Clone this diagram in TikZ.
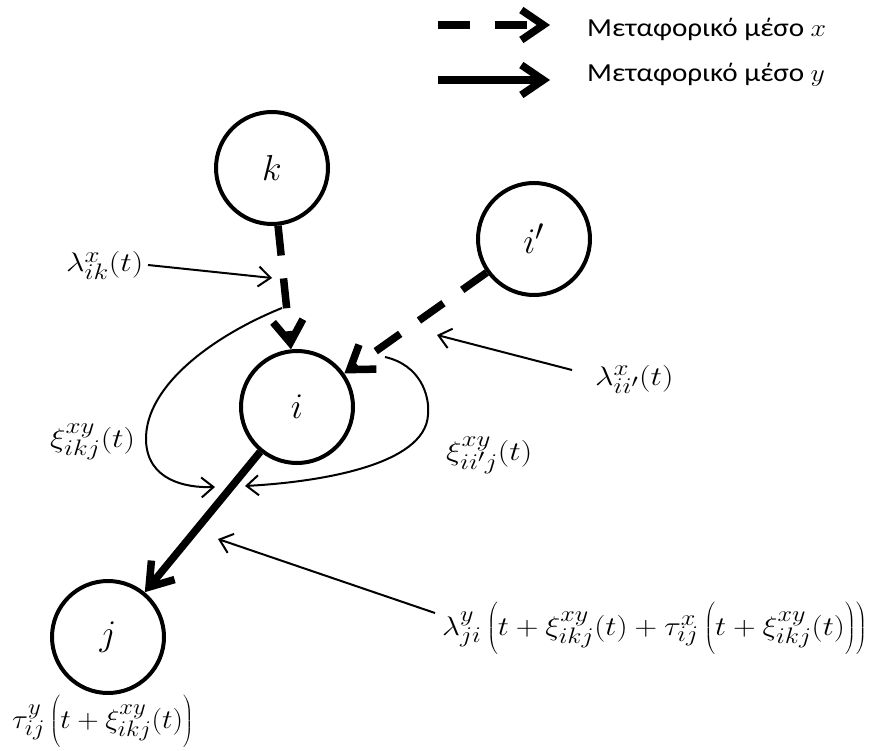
\documentclass[tikz,border=0pt]{standalone}
\usepackage{fontspec}
\newfontfamily\grk{Carlito}
\usetikzlibrary{arrows.meta}
\newcommand{\widemath}[2][1.3]{\scalebox{#1}[1.08]{$#2$}}
\newcommand{\bigletter}[1]{\scalebox{1.45}{$#1$}}
\newcommand{\tallstrut}{\rule[-18pt]{0pt}{48pt}}
\newcommand{\legtext}[1]{\scalebox{1.12}[1]{#1}}
\begin{document}
\begin{tikzpicture}[x=1pt,y=-1pt,
  stn/.style={circle,draw,line width=4pt,minimum size=112pt,inner sep=0pt,font=\fontsize{24.88}{30}\selectfont},
  modex/.style={line width=7.5pt,dash pattern=on 30pt off 23pt,-{Straight Barb[length=22pt,width=30pt]}},
  modey/.style={line width=7.5pt,-{Straight Barb[length=22pt,width=30pt]}},
  ann/.style={line width=2pt,-{Straight Barb[length=12pt,width=20pt]}},
  lbl/.style={inner sep=0pt,anchor=base west,font=\fontsize{24.88}{30}\selectfont},
  leg/.style={inner sep=0pt,anchor=base west,font=\grk\fontsize{26}{31}\selectfont}]
\useasboundingbox (0,0) rectangle (872,751);
% stations
\node[stn] (k) at (272,168) {\bigletter{k}};
\node[stn] (ip) at (534,239) {\bigletter{i'}};
\node[stn] (i) at (297,407) {\bigletter{i}};
\node[stn] (j) at (108,637) {\bigletter{j}};
% mode arrows
\draw[modex] (k) -- (i);
\draw[modex] (ip) -- (i);
\draw[modey] (i) -- (j);
% labels
\node[lbl] (lik) at (66,272) {\widemath{\lambda^{x}_{ik}(t)}};
\node[lbl] (lii) at (595,385) {\widemath{\lambda^{x}_{ii'}(t)}};
\node[lbl] (xikj) at (50,447) {\widemath{\xi^{xy}_{ikj}(t)}};
\node[lbl] (xiij) at (446,460) {\widemath{\xi^{xy}_{ii'j}(t)}};
\node[lbl] (lji) at (442,635) {\widemath[1.26]{\lambda^{y}_{ji}\left(\tallstrut t+\xi^{xy}_{ikj}(t)+\tau^{x}_{ij}\left(\tallstrut t+\xi^{xy}_{ikj}(t)\right)\right)}};
\node[lbl] (tij) at (12,728) {\widemath[1.19]{\tau^{y}_{ij}\left(\tallstrut t+\xi^{xy}_{ikj}(t)\right)}};
% annotation arrows
\coordinate (a1s) at (148,265); \coordinate (a1t) at (272,278);
\draw[ann] (a1s) -- (a1t);
\coordinate (a2s) at (572,370); \coordinate (a2t) at (437,335);
\draw[ann] (a2s) -- (a2t);
\coordinate (a3s) at (435,613); \coordinate (a3t) at (218,539);
\draw[ann] (a3s) -- (a3t);
\coordinate (c1s) at (282,308); \coordinate (c1t) at (215,487);
\draw[ann] (c1s) .. controls (215,335) and (145,385) .. (146,440) .. controls (147,480) and (185,488) .. (c1t);
\coordinate (c2s) at (385,357); \coordinate (c2t) at (245,486);
\draw[ann] (c2s) .. controls (420,365) and (430,395) .. (428,415) .. controls (425,465) and (320,482) .. (c2t);
% legend
\coordinate (lx0) at (438,25); \coordinate (lx1) at (550,25);
\draw[modex,dash pattern=on 32pt off 25pt] (lx0) -- (lx1);
\coordinate (ly0) at (438,80); \coordinate (ly1) at (550,80);
\draw[modey] (ly0) -- (ly1);
\node[leg] (legx) at (587,37) {\legtext{Μεταφορικό μέσο $x$}};
\node[leg] (legy) at (587,82) {\legtext{Μεταφορικό μέσο $y$}};
\end{tikzpicture}
\end{document}
